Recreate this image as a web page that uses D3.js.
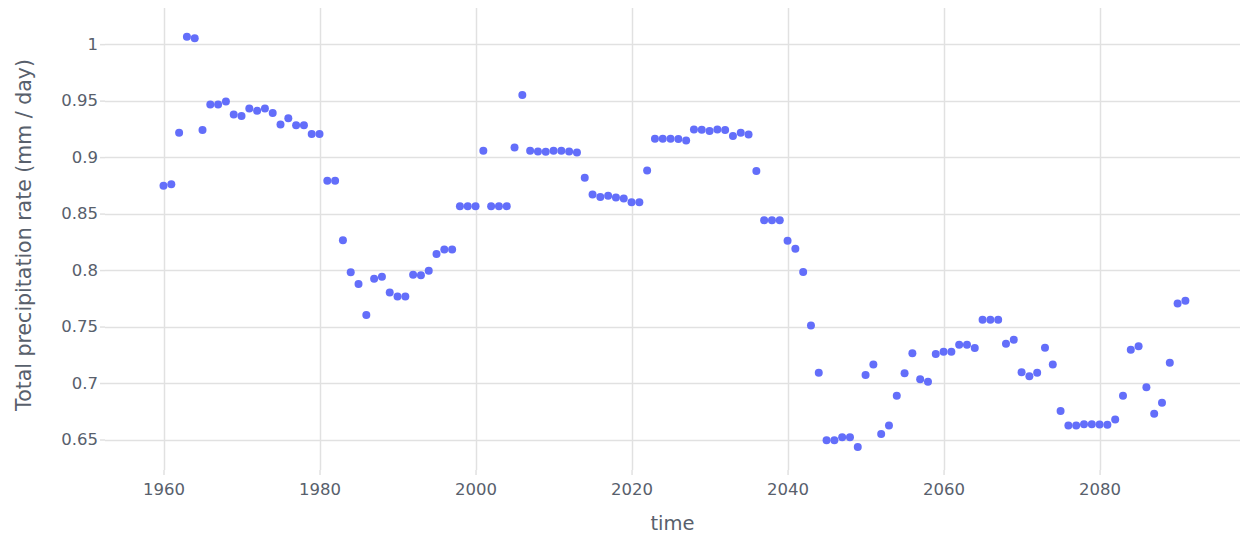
<!DOCTYPE html>
<html>
<head>
<meta charset="utf-8">
<script src="https://cdn.jsdelivr.net/npm/d3@7"></script>
<style>
  html, body { margin: 0; padding: 0; background: #fff; }
  svg text { font-family: "DejaVu Sans", Verdana, sans-serif; }
</style>
</head>
<body>
<div id="chart"></div>
<script>
// yearly values
const years = d3.range(1960, 2092);
const precip = [
  0.8746, 0.876, 0.9215, 1.0065, 1.0053, 0.9239, 0.9466, 0.9466, 0.9493, 0.9378,
  0.9363, 0.9431, 0.941, 0.9431, 0.939, 0.9289, 0.9345, 0.9283, 0.9283, 0.9204,
  0.9204, 0.879, 0.879, 0.8265, 0.798, 0.7876, 0.7602, 0.7923, 0.794, 0.7802,
  0.7767, 0.7767, 0.7958, 0.7955, 0.7994, 0.8142, 0.8183, 0.8183, 0.8566, 0.8566,
  0.8566, 0.9056, 0.8566, 0.8566, 0.8566, 0.9085, 0.9549, 0.9056, 0.905, 0.9047,
  0.9056, 0.9056, 0.905, 0.9041, 0.8817, 0.867, 0.8646, 0.8658, 0.8643, 0.8634,
  0.86, 0.86, 0.8882, 0.9162, 0.9162, 0.9162, 0.916, 0.9148, 0.9245, 0.9242,
  0.923, 0.9245, 0.924, 0.9186, 0.9215, 0.92, 0.8876, 0.8442, 0.8442, 0.8442,
  0.826, 0.8189, 0.7982, 0.751, 0.709, 0.6493, 0.6493, 0.652, 0.652, 0.6434,
  0.7071, 0.7165, 0.6549, 0.6625, 0.6888, 0.7086, 0.7263, 0.7033, 0.7012, 0.7257,
  0.7277, 0.7277, 0.7339, 0.7339, 0.731, 0.756, 0.756, 0.756, 0.7348, 0.7384,
  0.7095, 0.7059, 0.709, 0.7312, 0.7165, 0.6752, 0.6625, 0.6625, 0.6635, 0.6635,
  0.6632, 0.663, 0.6676, 0.6888, 0.7295, 0.7325, 0.6962, 0.6728, 0.6826, 0.718,
  0.7705, 0.7728
];
const xTicks = [1960, 1980, 2000, 2020, 2040, 2060, 2080];
const yTicks = [0.65, 0.7, 0.75, 0.8, 0.85, 0.9, 0.95, 1];
const yTickLabels = ["0.65", "0.7", "0.75", "0.8", "0.85", "0.9", "0.95", "1"];

const width = 1241, height = 535;
const margin = {top: 8, right: 1, bottom: 65, left: 105};

const svg = d3.select("#chart").append("svg")
  .attr("width", width)
  .attr("height", height);

const x = d3.scaleLinear()
  .domain([1952.5, 2098])
  .range([margin.left, width - margin.right]);

const y = d3.scaleLinear()
  .domain([0.623, 1.032])
  .range([height - margin.bottom, margin.top]);

const gridColor = "#e1e1e1";
const textColor = "#58606c";

// grid lines
svg.append("g")
  .selectAll("line")
  .data(xTicks)
  .join("line")
  .attr("x1", d => Math.round(x(d)) + 0.5)
  .attr("x2", d => Math.round(x(d)) + 0.5)
  .attr("y1", margin.top)
  .attr("y2", height - margin.bottom)
  .attr("stroke", gridColor)
  .attr("stroke-width", 1.5);

svg.append("g")
  .selectAll("line")
  .data(yTicks)
  .join("line")
  .attr("x1", margin.left)
  .attr("x2", width - margin.right)
  .attr("y1", d => Math.round(y(d)) + 0.5)
  .attr("y2", d => Math.round(y(d)) + 0.5)
  .attr("stroke", gridColor)
  .attr("stroke-width", 1.5);

// axes
const xAxis = d3.axisBottom(x)
  .tickValues(xTicks)
  .tickFormat(d3.format("d"))
  .tickSize(5)
  .tickPadding(8);

const yAxis = d3.axisLeft(y)
  .tickValues(yTicks)
  .tickFormat((d, i) => yTickLabels[i])
  .tickSize(5)
  .tickPadding(2);

const gx = svg.append("g")
  .attr("transform", "translate(0," + (height - margin.bottom) + ")")
  .call(xAxis);

const gy = svg.append("g")
  .attr("transform", "translate(" + margin.left + ",0)")
  .call(yAxis);

[gx, gy].forEach(g => {
  g.select(".domain").remove();
  g.selectAll(".tick line").attr("stroke", gridColor).attr("stroke-width", 1.5);
  g.selectAll(".tick text")
    .attr("fill", textColor)
    .style("font-size", "16.5px")
    .style("font-family", "'DejaVu Sans', Verdana, sans-serif");
});

// points
svg.append("g")
  .selectAll("circle")
  .data(years.map((yr, i) => ({year: yr, value: precip[i]})))
  .join("circle")
  .attr("cx", d => x(d.year))
  .attr("cy", d => y(d.value))
  .attr("r", 4)
  .attr("fill", "#636efa");

// axis titles
svg.append("text")
  .attr("x", (margin.left + width - margin.right) / 2)
  .attr("y", 530)
  .attr("text-anchor", "middle")
  .attr("fill", textColor)
  .style("font-size", "19.5px")
  .text("time");

svg.append("text")
  .attr("transform", "translate(31,235) rotate(-90)")
  .attr("text-anchor", "middle")
  .attr("fill", textColor)
  .style("font-size", "20.5px")
  .text("Total precipitation rate (mm / day)");
</script>
</body>
</html>
